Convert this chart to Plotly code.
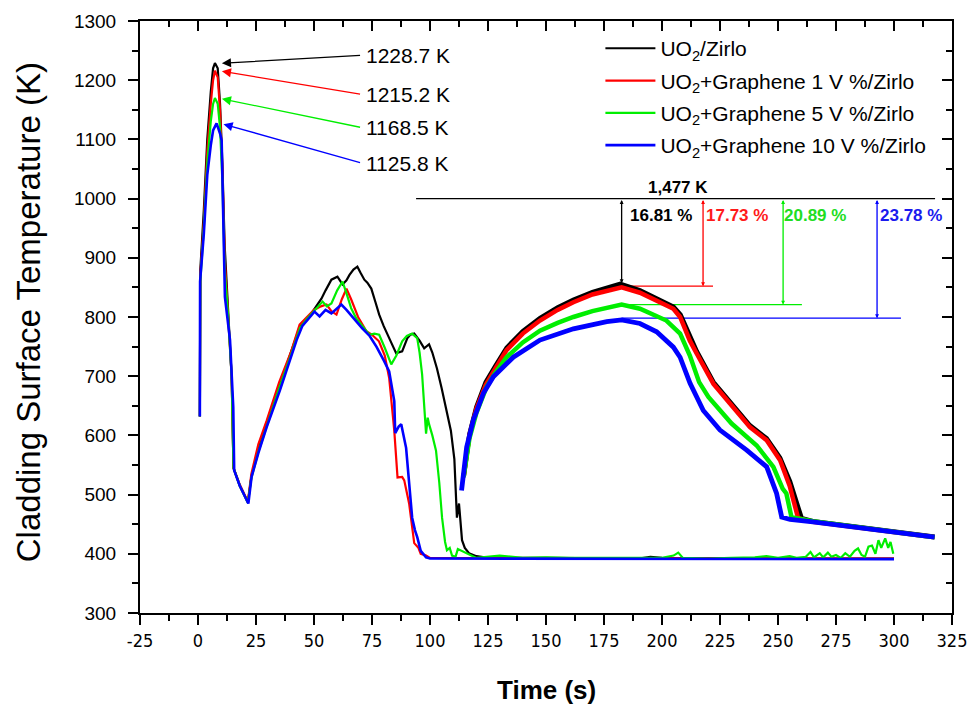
import plotly.graph_objects as go

# ---------------- data ----------------
series_names = [
    "UO<sub>2</sub>/Zirlo",
    "UO<sub>2</sub>+Graphene 1 V %/Zirlo",
    "UO<sub>2</sub>+Graphene 5 V %/Zirlo",
    "UO<sub>2</sub>+Graphene 10 V %/Zirlo",
]
colors = ["#000000", "#ff0000", "#00ee00", "#0000ff"]

# segment 1 (blowdown / reflood) -- time (s), temperature (K)
black_t1 = [0.8, 1, 2.5, 4, 5.5, 6.5, 7.3, 8.5, 9.5, 10.5, 11.5, 13, 14.5, 15.3, 18, 21.5, 23, 26, 29.6, 35, 40, 44, 47,
            49.4, 51, 53.2, 55, 57.5, 60.1, 62.3, 64, 65.3, 67, 68.7, 70, 71.7, 73, 74.7, 76.5, 78.1, 80, 81.6, 83.5,
            85.4, 88, 90.2, 91.5, 93.2, 95.5, 97.5, 99.6, 101, 103, 105, 106.9, 109, 110.5, 111.2, 111.6, 112.5,
            113.8, 115, 116.8, 120, 125, 150, 190, 195, 200, 250, 300]
black_T1 = [632, 880, 980, 1100, 1180, 1220, 1229, 1220, 1160, 1060, 920, 810, 700, 545, 515, 487, 530, 578, 620, 685,
            740, 785, 797, 809, 818, 831, 845, 863, 868, 855, 862, 871, 880, 885, 875, 863, 858, 848, 825, 804, 785,
            770, 755, 739, 742, 764, 770, 772, 760, 747, 754, 740, 713, 680, 646, 608, 560, 507, 461, 485, 423, 410,
            401, 396, 393, 393, 392, 395, 393, 392, 392]

red_t1 = [0.8, 1, 2.5, 4, 5.5, 6.5, 7.3, 8.5, 9.5, 10.5, 11.5, 13, 14.5, 15.3, 18, 21.5, 23, 26, 29.6, 35, 40, 43.8,
          47, 50, 53, 55.4, 57.5, 59.7, 62, 64, 66, 69, 72.6, 75, 78, 80.5, 82.4, 84.6, 86, 88, 88.9, 91, 93.2, 95,
          96, 98.3, 100, 150, 200, 300]
red_T1 = [632, 870, 960, 1080, 1160, 1200, 1216, 1205, 1150, 1050, 900, 800, 700, 545, 517, 488, 535, 585, 625, 690,
          740, 787, 800, 812, 818, 821, 810, 804, 830, 848, 830, 800, 776, 770, 759, 735, 697, 608, 529, 530, 524,
          485, 418, 410, 400, 397, 393, 393, 392, 392]

green_t1 = [0.8, 1, 2.5, 4, 5.5, 6.5, 7.3, 8.5, 9.5, 10.5, 11.5, 13, 14.5, 15.3, 18, 21.5, 23, 26, 29.6, 35, 40, 44,
            47, 50, 53.7, 55.5, 57.5, 60, 62.3, 64, 66, 68.3, 71, 73.9, 76, 78.1, 80.5, 83.3, 85.5, 88, 90, 92.3,
            94.5, 95.5, 96.6, 97.5, 98.3, 99, 99.6, 101, 102.6, 104, 105.2, 106.5, 107.3, 108.5, 109.5, 111, 112,
            120, 130, 140, 150, 160, 170, 180, 190, 200, 205, 207, 209, 220, 230, 240, 245, 250, 255, 258, 262, 264,
            265.5, 268, 269.5, 271.5, 273, 275, 277, 279, 281, 283, 284.5, 286, 287.5, 289, 290.5, 292, 293.3,
            294.5, 296.2, 297.5, 298.5, 299.7]
green_T1 = [632, 860, 950, 1060, 1130, 1160, 1170, 1160, 1120, 1030, 880, 800, 700, 545, 515, 486, 528, 572, 615,
            680, 735, 782, 797, 810, 826, 818, 823, 845, 860, 840, 815, 797, 783, 770, 772, 770, 748, 720, 735, 759,
            768, 772, 764, 740, 703, 650, 603, 630, 619, 600, 574, 520, 461, 420, 406, 410, 397, 395, 408, 393, 397,
            393, 394, 393, 393, 392, 393, 393, 397, 402, 393, 392, 393, 394, 396, 393, 396, 393, 395, 403, 394, 401,
            394, 402, 395, 398, 393, 401, 395, 405, 409, 398, 395, 412, 414, 400, 423, 410, 426, 410, 420, 400]

blue_t1 = [0.8, 0.9, 2.5, 4, 5.5, 6.5, 8, 9.5, 10.2, 10.9, 11.6, 13.8, 14.5, 15.2, 15.6, 18, 21.7, 23.1, 26, 29.6,
           35.3, 42.5, 45, 48, 50.2, 52.4, 55, 57.5, 60, 61.8, 64, 67, 70.8, 74, 76.9, 80.3, 82.4, 84.6, 85, 86.5,
           87.6, 89.7, 92.3, 93.5, 94.5, 96, 98.3, 100, 150, 200, 300]
blue_T1 = [632, 860, 940, 1040, 1090, 1115, 1127, 1110, 1098, 986, 834, 761, 700, 648, 541, 515, 485, 530, 570, 614,
           676, 761, 785, 800, 809, 801, 812, 806, 815, 821, 812, 798, 781, 768, 750, 725, 708, 658, 604, 615, 619,
           579, 461, 440, 428, 405, 394, 392, 392, 391, 391]

# segment 2 (second heat-up hump and tail)
black_t2 = [114.5, 117, 120, 124, 128, 133, 140, 147.4, 155, 161.8, 170, 182, 190.5, 198, 205, 208, 212, 215, 222.2,
            229.3, 237.9, 245.1, 250.9, 255.2, 258.7, 260.2, 265, 290, 317.5]
black_T2 = [530, 602, 648, 690, 716, 748, 776, 798, 816, 829, 842, 856, 845, 831, 817, 804, 770, 742, 690, 657, 617,
            595, 562, 522, 482, 460, 455, 443, 429]

red_t2 = [114.5, 117, 120, 124, 128, 133, 140, 147.4, 155, 161.8, 170, 182.6, 190.5, 198, 204.9, 207.8, 212, 215,
          222.2, 229.3, 237.9, 245.1, 250.9, 255, 258, 258.7, 265, 290, 317.5]
red_T2 = [530, 600, 645, 685, 712, 744, 772, 794, 812, 825, 838, 850, 841, 828, 814, 800, 760, 738, 687, 654, 614,
          592, 558, 515, 470, 460, 454, 442, 428]

green_t2 = [114.5, 117, 120, 124.4, 128, 133, 140, 147.4, 155, 161.8, 170, 182.6, 190.5, 197, 201.9, 207.8, 212,
            216, 220, 230, 240.8, 248, 252, 253.6, 255.8, 265, 290, 317.5]
green_T2 = [530, 595, 638, 682, 705, 732, 757, 777, 790, 800, 810, 821, 814, 803, 794, 772, 735, 690, 665, 620, 583,
            547, 510, 502, 462, 455, 442, 428]

blue_t2 = [113.6, 115.8, 118.7, 123, 127.3, 135.9, 147.4, 161.8, 176.2, 182.6, 190.5, 197.7, 204.9, 207.8, 212.1,
           217.8, 225, 236.5, 245.1, 249.4, 251.6, 255.2, 265, 290, 317.5]
blue_T2 = [507, 580, 626, 671, 699, 732, 761, 780, 792, 795, 789, 775, 749, 732, 688, 642, 609, 575, 547, 502, 462,
           458, 454, 442, 428]

# annotation values
peak_times = [7.3, 7.3, 7.3, 8.0]
peak_values = [1228.7, 1215.2, 1168.5, 1125.8]
peak_label_T = [1242, 1176, 1120, 1060]

limit_label = "1,477 K"
limit_level = 1000
hump_peak_time = 182.6
hump_peaks = [857, 852, 821, 798]
drop_pct = [16.81, 17.73, 20.89, 23.78]
drop_line_t = [182.6, 217.7, 252.2, 292.7]
hline_end_t = [182.6, 222.0, 260.3, 303.0]
pct_label_t = [199.5, 232.3, 266.0, 307.3]

x_ticks = list(range(-25, 326, 25))
y_ticks = list(range(300, 1301, 100))

# ---------------- figure ----------------
FONT = "Liberation Sans, Arial, sans-serif"
fig = go.Figure()

seg1 = [(black_t1, black_T1), (red_t1, red_T1), (green_t1, green_T1), (blue_t1, blue_T1)]
seg2 = [(black_t2, black_T2), (red_t2, red_T2), (green_t2, green_T2), (blue_t2, blue_T2)]

for i in range(4):
    fig.add_trace(go.Scatter(x=seg1[i][0], y=seg1[i][1], mode="lines", name=series_names[i],
                             legendgroup=f"g{i}", line=dict(color=colors[i], width=2.6 if i == 3 else 2.2)))
for i in range(4):
    fig.add_trace(go.Scatter(x=seg2[i][0], y=seg2[i][1], mode="lines", showlegend=False,
                             legendgroup=f"g{i}", line=dict(color=colors[i], width=4.8 if i == 3 else 4.5)))

# helper trace for mirrored (top/right) axes
fig.add_trace(go.Scatter(x=[None], y=[None], xaxis="x2", yaxis="y2", showlegend=False, hoverinfo="skip"))

shapes = []
annotations = []

shapes.append(dict(type="line", xref="x", yref="y", x0=94, x1=317.7, y0=limit_level, y1=limit_level,
                   line=dict(color="black", width=1.3)))
annotations.append(dict(x=206.9, y=1019, xref="x", yref="y", text=f"<b>{limit_label}</b>", showarrow=False,
                        font=dict(family=FONT, size=17, color="black")))

pct_colors = ["#000000", "#ff1a1a", "#22dd22", "#1a1aee"]
for i in range(4):
    if i > 0:
        shapes.append(dict(type="line", xref="x", yref="y", x0=hump_peak_time, x1=hline_end_t[i],
                           y0=hump_peaks[i], y1=hump_peaks[i], layer="below",
                           line=dict(color=colors[i], width=1.3)))
    annotations.append(dict(x=drop_line_t[i], y=hump_peaks[i], ax=drop_line_t[i], ay=limit_level,
                            xref="x", yref="y", axref="x", ayref="y", text="", showarrow=True,
                            arrowhead=2, startarrowhead=2, arrowside="end+start", arrowsize=0.6,
                            startarrowsize=0.6, arrowwidth=1.3, arrowcolor=colors[i]))
    annotations.append(dict(x=pct_label_t[i], y=972, xref="x", yref="y", text=f"<b>{drop_pct[i]} %</b>",
                            showarrow=False, font=dict(family=FONT, size=17, color=pct_colors[i])))
    annotations.append(dict(x=peak_times[i] + 3.0, y=peak_values[i], ax=70.5, ay=peak_label_T[i],
                            xref="x", yref="y", axref="x", ayref="y", text="", showarrow=True,
                            arrowhead=2, arrowsize=1.4, arrowwidth=1.3, arrowcolor=colors[i]))
    annotations.append(dict(x=71.5, y=peak_label_T[i], xref="x", yref="y", text=f"{peak_values[i]} K",
                            showarrow=False, xanchor="left", font=dict(family=FONT, size=21, color="black")))

# axis titles
annotations.append(dict(x=-0.138, y=0.508, xref="paper", yref="paper", text="Cladding Surface Temperature (K)",
                        textangle=-90, showarrow=False, xanchor="center", yanchor="middle",
                        font=dict(family=FONT, size=33, color="black")))
annotations.append(dict(x=0.501, y=-0.130, xref="paper", yref="paper", text="<b>Time (s)</b>",
                        showarrow=False, xanchor="center", yanchor="middle",
                        font=dict(family=FONT, size=26, color="black")))

axis_common = dict(showgrid=False, zeroline=False, showline=True, linecolor="black", linewidth=2,
                   tickcolor="black", tickwidth=2, automargin=False)

# page has an 8 px body margin; the figure is sized so that the plot frame lands at the reference position
fig.update_layout(
    width=961, height=696,
    margin=dict(l=132, r=17, t=13, b=91, autoexpand=False),
    paper_bgcolor="white", plot_bgcolor="white",
    font=dict(family=FONT, color="black"),
    showlegend=True,
    legend=dict(x=0.567, y=0.988, xanchor="left", yanchor="top", bgcolor="rgba(0,0,0,0)",
                font=dict(family=FONT, size=21, color="black"), itemwidth=50, tracegroupgap=2),
    xaxis=dict(range=[-25, 325], tickmode="array", tickvals=x_ticks, ticktext=[str(v) for v in x_ticks],
               ticks="outside", ticklen=10, ticklabelstandoff=0,
               tickfont=dict(family="Liberation Sans Narrow, DejaVu Sans Condensed, Liberation Sans, Arial", size=18),
               minor=dict(dtick=12.5, tick0=0, ticks="outside", ticklen=6, tickwidth=2, tickcolor="black"),
               **axis_common),
    yaxis=dict(range=[300, 1300], tickmode="array", tickvals=y_ticks, ticktext=[str(v) for v in y_ticks],
               ticks="outside", ticklen=10, ticklabelstandoff=8,
               tickfont=dict(family=FONT, size=19),
               minor=dict(dtick=50, tick0=0, ticks="outside", ticklen=6, tickwidth=2, tickcolor="black"),
               **axis_common),
    xaxis2=dict(range=[-25, 325], overlaying="x", side="top", showticklabels=False, dtick=25, tick0=0,
                ticks="inside", ticklen=10,
                minor=dict(dtick=12.5, tick0=0, ticks="inside", ticklen=6, tickwidth=2, tickcolor="black"),
                **axis_common),
    yaxis2=dict(range=[300, 1300], overlaying="y", side="right", showticklabels=False, dtick=100, tick0=0,
                ticks="inside", ticklen=10,
                minor=dict(dtick=50, tick0=0, ticks="inside", ticklen=6, tickwidth=2, tickcolor="black"),
                **axis_common),
    shapes=shapes,
    annotations=annotations,
)

fig.write_html("out.html")
